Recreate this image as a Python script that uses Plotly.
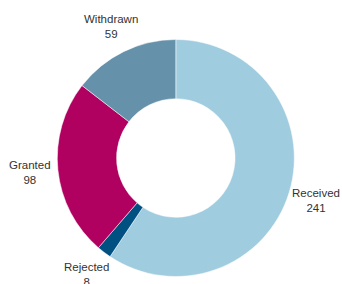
import math
import plotly.graph_objects as go

labels = ["Received", "Rejected", "Granted", "Withdrawn"]
values = [241, 8, 98, 59]
colors = ["#A0CCDF", "#005082", "#B00060", "#6592AA"]

W, H = 342, 284
cx, cy, r = 175.8, 158.0, 118.5   # pie centre and radius in pixels (from top-left)
label_dist = 1.24                  # label distance as a multiple of the radius

dom_x = [(cx - r) / W, (cx + r) / W]
dom_y = [1 - (cy + r) / H, 1 - (cy - r) / H]

fig = go.Figure(go.Pie(
    labels=labels,
    values=values,
    hole=0.5,
    sort=False,
    direction="clockwise",
    rotation=0,
    marker=dict(colors=colors, line=dict(color="white", width=0.5)),
    textinfo="none",
    domain=dict(x=dom_x, y=dom_y),
    showlegend=False,
    hoverinfo="label+value",
))

# labels at the mid-angle of each slice, computed from the values
total = sum(values)
cum = 0.0
annotations = []
for lab, val in zip(labels, values):
    mid = (cum + val / 2) / total * 2 * math.pi
    cum += val
    px = cx + label_dist * r * math.sin(mid)
    py = cy - label_dist * r * math.cos(mid)
    annotations.append(dict(
        x=px / W, y=1 - py / H, xref="paper", yref="paper",
        text=f"{lab}<br>{val}", showarrow=False,
        xanchor="center", yanchor="middle", align="center",
        font=dict(family="Liberation Sans, Arial, sans-serif", size=11.5, color="#333333"),
    ))

fig.update_layout(
    width=W, height=H,
    margin=dict(l=0, r=0, t=0, b=0),
    paper_bgcolor="white",
    plot_bgcolor="white",
    annotations=annotations,
)

fig.write_html(
    "out.html",
    config={"displayModeBar": False},
    post_script="document.body.style.margin='0';document.body.style.padding='0';document.body.style.overflow='hidden';",
)
